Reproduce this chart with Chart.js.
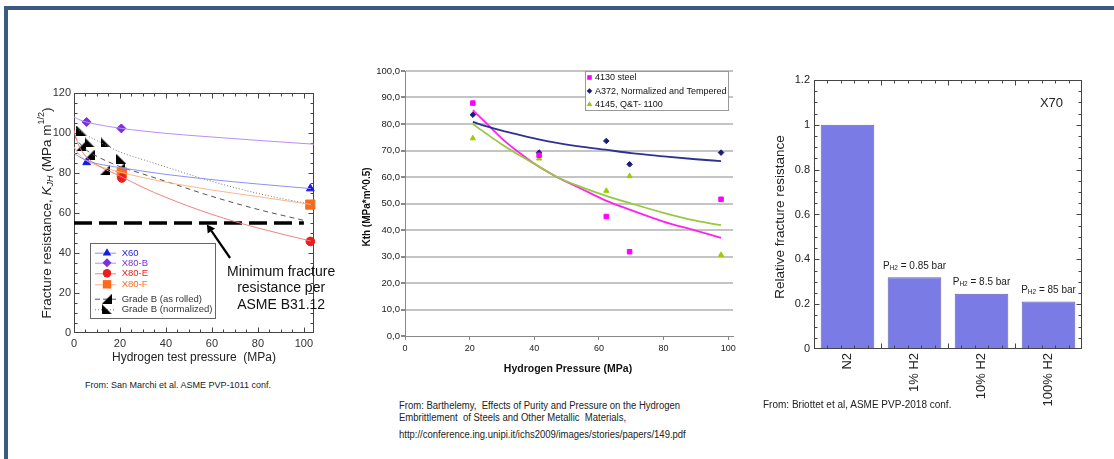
<!DOCTYPE html>
<html><head><meta charset="utf-8">
<script src="https://cdn.jsdelivr.net/npm/chart.js@4.4.1/dist/chart.umd.min.js"></script>
<style>
html,body{margin:0;padding:0;background:#fff;}
body{width:1114px;height:459px;position:relative;overflow:hidden;font-family:"Liberation Sans",Arial,Helvetica,sans-serif;}
.bar{position:absolute;background:#3c5a80;}
canvas{position:absolute;}
.src{position:absolute;color:#222;white-space:nowrap;line-height:1;}
.narrow{transform:scaleX(0.95);transform-origin:0 0;}
</style></head><body>
<div class="bar" style="left:4px;top:6px;width:1110px;height:4px"></div>
<div class="bar" style="left:4px;top:6px;width:4px;height:453px"></div>
<canvas id="c1" width="340" height="290" style="left:20px;top:80px"></canvas>
<canvas id="c2" width="380" height="320" style="left:360px;top:60px"></canvas>
<canvas id="c3" width="350" height="360" style="left:750px;top:60px"></canvas>
<div class="src" style="left:85px;top:381px;font-size:9px">From: San Marchi et al. ASME PVP-1011 conf.</div>
<div class="src narrow" style="left:399px;top:401px;font-size:10px">From: Barthelemy,&nbsp; Effects of Purity and Pressure on the Hydrogen</div>
<div class="src narrow" style="left:399px;top:412.5px;font-size:10px">Embrittlement&nbsp; of Steels and Other Metallic&nbsp; Materials,</div>
<div class="src narrow" style="left:399px;top:429.5px;font-size:10px">http://conference.ing.unipi.it/ichs2009/images/stories/papers/149.pdf</div>
<div class="src" style="left:763px;top:400px;font-size:10px">From: Briottet et al, ASME PVP-2018 conf.</div>
<script>
// ================= Chart 1 (San Marchi) =================
const c1XTicks = [0, 20, 40, 60, 80, 100];
const c1YTicks = [0, 20, 40, 60, 80, 100, 120];
const c1Names = ['X60', 'X80-B', 'X80-E', 'X80-F', 'Grade B (as rolled)', 'Grade B (normalized)'];
const x60X = [5.5, 102.8];            const x60Y = [85.3, 72.2];
const x80bX = [5.5, 20.6];            const x80bY = [105.5, 102.3];
const x80eX = [20.8, 102.8];          const x80eY = [77.5, 45.8];
const x80fX = [20.8, 102.8];          const x80fY = [80.3, 64.2];
const gbRolledX = [3.2, 6.8, 13.4, 20.2]; const gbRolledY = [93.6, 89.2, 81.3, 82.8];
const gbNormX = [3.2, 6.8, 13.8, 20.6];   const gbNormY = [101.2, 95.3, 95.3, 87];
// fitted curves
const x60FitX = [0, 2, 5, 10, 20, 30, 40, 60, 80, 103];
const x60FitY = [90, 88.3, 86.5, 84.7, 82.7, 80.9, 79.3, 76.7, 74.5, 72.2];
const x80bFitX = [0, 2, 5, 10, 20, 30, 40, 60, 80, 104.4];
const x80bFitY = [108, 106.8, 105.6, 104.3, 102.4, 101, 99.8, 98, 96.3, 94.4];
const x80eFitX = [0, 1, 2, 5, 10, 20, 30, 40, 60, 80, 103];
const x80eFitY = [101.5, 97, 94, 88.5, 84, 78.5, 72.8, 67.8, 59.3, 52.5, 46];
const x80fFitX = [0, 2, 5, 10, 20, 30, 40, 60, 80, 103];
const x80fFitY = [93, 89.5, 86.5, 83.8, 80.5, 77.7, 75.4, 71.5, 68.2, 64.3];
const gbRolledFitX = [0, 2, 5, 10, 20, 30, 40, 60, 80, 100];
const gbRolledFitY = [99, 95.5, 91.8, 88.3, 83.2, 79.5, 75.8, 68.3, 61.8, 56.3];
const gbNormFitX = [0, 2, 5, 10, 20, 30, 40, 60, 80, 104.4];
const gbNormFitY = [103.3, 101.5, 99.2, 96.2, 90.5, 86.7, 83, 75.8, 69.8, 64];
const asmeMinX = [0, 100];            const asmeMinY = [55, 55];

// ================= Chart 2 (Barthelemy) =================
const c2XTicks = [0, 20, 40, 60, 80, 100];
const c2YTicks = [0, 10, 20, 30, 40, 50, 60, 70, 80, 90, 100];
const c2Names = ['4130 steel', 'A372, Normalized and Tempered', '4145, Q&T- 1100'];
const s4130X = [21, 41.5, 62.3, 69.5, 97.8]; const s4130Y = [87.9, 68.2, 45.1, 31.8, 51.6];
const a372X = [21, 41.5, 62.3, 69.5, 97.8];  const a372Y = [83.5, 69.2, 73.6, 64.8, 69.2];
const q4145X = [21, 41.5, 62.3, 69.5, 97.8]; const q4145Y = [74.6, 67, 54.8, 60.3, 30.6];
const c2FitX = [21, 25, 30, 35, 41, 47, 55, 62, 70, 80, 90, 97.8];
const fit4130Y = [85.2, 80.5, 74.5, 69.5, 64.2, 60, 55.3, 51.2, 47.5, 43.2, 39.8, 37];
const fitA372Y = [80.8, 79.2, 77.5, 76, 74.3, 72.9, 71.4, 70.3, 69, 67.8, 66.7, 66];
const fit4145Y = [80, 76.5, 72.3, 68.5, 64.3, 60, 56, 53, 50, 46.5, 43.5, 41.8];

// ================= Chart 3 (Briottet) =================
const c3Cats = ['N2', '1% H2', '10% H2', '100% H2'];
const c3Vals = [1.0, 0.32, 0.247, 0.212];
const c3Notes = ['', '= 0.85 bar', '= 8.5 bar', '= 85 bar'];
const c3YTicks = [0, 0.2, 0.4, 0.6, 0.8, 1, 1.2];

// ---------------------------------------------------------
const FF = '"Liberation Sans", Arial, Helvetica, sans-serif';
Chart.defaults.font.family = FF;
Chart.defaults.animation = false;
Chart.defaults.plugins.legend.display = false;
Chart.defaults.plugins.tooltip.enabled = false;

const xy = (xs, ys) => xs.map((x, i) => ({x: x, y: ys[i]}));
function fitDs(xs, ys, color, width, dash) {
  return {data: xy(xs, ys), showLine: true, borderColor: color, borderWidth: width, borderDash: dash || [],
    pointRadius: 0, tension: 0.4, cubicInterpolationMode: 'monotone', fill: false};
}
function ptsDs(xs, ys, style, r, fill, border) {
  return {data: xy(xs, ys), showLine: false, pointStyle: style, pointRadius: r,
    backgroundColor: fill, borderColor: border || fill, borderWidth: 1, clip: false};
}
function triCanvas(kind) {
  const c = document.createElement('canvas'); c.width = 10; c.height = 10;
  const g = c.getContext('2d'); g.fillStyle = '#000'; g.beginPath();
  if (kind === 'rolled') { g.moveTo(10, 0); g.lineTo(10, 10); g.lineTo(0, 10); }
  else { g.moveTo(0, 0); g.lineTo(0, 10); g.lineTo(10, 10); }
  g.closePath(); g.fill(); return c;
}
const triRolled = triCanvas('rolled'), triNorm = triCanvas('norm');

function rich(ctx, parts, cx, cy, rot) {
  ctx.save(); ctx.translate(cx, cy); if (rot) ctx.rotate(rot);
  ctx.textBaseline = 'middle'; ctx.textAlign = 'left';
  let w = 0; parts.forEach(p => { ctx.font = p.f; w += ctx.measureText(p.t).width; });
  let x = -w / 2;
  parts.forEach(p => { ctx.font = p.f; ctx.fillStyle = p.c || '#222'; ctx.fillText(p.t, x, p.dy || 0); x += ctx.measureText(p.t).width; });
  ctx.restore();
}
function marker(ctx, style, x, y, r, color) {
  ctx.save(); ctx.fillStyle = color; ctx.beginPath();
  if (style === 'triangle') { ctx.moveTo(x, y - r); ctx.lineTo(x + r * 0.95, y + r * 0.6); ctx.lineTo(x - r * 0.95, y + r * 0.6); ctx.closePath(); ctx.fill(); }
  else if (style === 'rectRot') { ctx.moveTo(x, y - r); ctx.lineTo(x + r, y); ctx.lineTo(x, y + r); ctx.lineTo(x - r, y); ctx.closePath(); ctx.fill(); }
  else if (style === 'circle') { ctx.arc(x, y, r, 0, Math.PI * 2); ctx.fill(); }
  else if (style === 'rect') { ctx.fillRect(x - r, y - r, 2 * r, 2 * r); }
  else if (style && style.getContext) { ctx.drawImage(style, x - style.width / 2, y - style.height / 2); }
  ctx.restore();
}
const setTicks = arr => s => { s.ticks = arr.map(v => ({value: v})); };

// ================= Chart 1 =================
const c1Colors = {x60: '#1a1ae6', x60L: '#8f8ff2', x80b: '#7a2fe0', x80bL: '#b98ef5', x80e: '#ee1c1c', x80eL: '#f08080', x80f: '#ff6a1a', x80fL: '#f8b88c'};
new Chart(document.getElementById('c1'), {
  type: 'scatter',
  data: {datasets: [
    fitDs(x60FitX, x60FitY, c1Colors.x60L, 1),
    fitDs(x80bFitX, x80bFitY, c1Colors.x80bL, 1),
    fitDs(x80eFitX, x80eFitY, c1Colors.x80eL, 1),
    fitDs(x80fFitX, x80fFitY, c1Colors.x80fL, 1),
    fitDs(gbRolledFitX, gbRolledFitY, '#555', 1, [5, 4]),
    fitDs(gbNormFitX, gbNormFitY, '#777', 1, [1, 2]),
    {data: xy(asmeMinX, asmeMinY), showLine: true, borderColor: '#000', borderWidth: 3.5, borderDash: [18, 7], pointRadius: 0, clip: false},
    ptsDs(x60X, x60Y, 'triangle', 4.5, c1Colors.x60),
    ptsDs(x80bX, x80bY, 'rectRot', 4.5, c1Colors.x80b),
    ptsDs(x80eX, x80eY, 'circle', 4.3, c1Colors.x80e),
    ptsDs(x80fX, x80fY, 'rect', 6.5, c1Colors.x80f),
    ptsDs(gbRolledX, gbRolledY, triRolled, 5, '#000'),
    ptsDs(gbNormX, gbNormY, triNorm, 5, '#000')
  ]},
  options: {
    responsive: false,
    layout: {padding: {left: 0, top: 13, right: 46, bottom: 0}},
    scales: {
      x: {type: 'linear', min: 0, max: 104.4, afterBuildTicks: setTicks(c1XTicks), afterFit: s => { s.height = 37; },
          grid: {display: false, drawTicks: false}, border: {display: false},
          ticks: {padding: 4, color: '#333', font: {size: 11}, maxRotation: 0}},
      y: {type: 'linear', min: 0, max: 120, afterBuildTicks: setTicks(c1YTicks), afterFit: s => { s.width = 54; },
          grid: {display: false, drawTicks: false}, border: {display: false},
          ticks: {padding: 3, color: '#333', font: {size: 11}}}
    }
  },
  plugins: [{
    id: 'c1deco',
    beforeDatasetsDraw(chart) {
      const {ctx, chartArea: ca, scales: {x, y}} = chart;
      ctx.save(); ctx.strokeStyle = '#444'; ctx.lineWidth = 1;
      const L = Math.round(ca.left) + 0.5, R = Math.round(ca.right) - 0.5, T = Math.round(ca.top) + 0.5, B = Math.round(ca.bottom) - 0.5;
      ctx.strokeRect(L, T, R - L, B - T);
      ctx.beginPath();
      for (let v = 5; v <= 104; v += 5) { const px = Math.round(x.getPixelForValue(v)) + 0.5, len = v % 20 === 0 ? 5 : 3;
        ctx.moveTo(px, B); ctx.lineTo(px, B - len); ctx.moveTo(px, T); ctx.lineTo(px, T + len); }
      for (let v = 5; v < 120; v += 5) { const py = Math.round(y.getPixelForValue(v)) + 0.5, len = v % 20 === 0 ? 5 : 3;
        ctx.moveTo(L, py); ctx.lineTo(L + len, py); ctx.moveTo(R, py); ctx.lineTo(R - len, py); }
      ctx.stroke(); ctx.restore();
    },
    afterDraw(chart) {
      const {ctx, chartArea: ca, scales: {x, y}} = chart;
      // axis titles
      rich(ctx, [{t: 'Hydrogen test pressure  (MPa)', f: '12px ' + FF}], (ca.left + ca.right) / 2, 277.5, 0);
      rich(ctx, [
        {t: 'Fracture resistance, ', f: '13.5px ' + FF},
        {t: 'K', f: 'italic 13.5px ' + FF},
        {t: 'JH', f: 'italic 9px ' + FF, dy: 3},
        {t: ' (MPa m', f: '13.5px ' + FF},
        {t: '1/2', f: '9px ' + FF, dy: -5},
        {t: ')', f: '13.5px ' + FF}
      ], 27, (ca.top + ca.bottom) / 2, -Math.PI / 2);
      // arrow + annotation
      const tx = x.getPixelForValue(57.8), ty = y.getPixelForValue(54.3);
      const sx = x.getPixelForValue(67.9), sy = y.getPixelForValue(37.5);
      ctx.save(); ctx.strokeStyle = '#000'; ctx.fillStyle = '#000'; ctx.lineWidth = 2.2;
      const ang = Math.atan2(ty - sy, tx - sx);
      const hx = tx - 8 * Math.cos(ang), hy = ty - 8 * Math.sin(ang);
      ctx.beginPath(); ctx.moveTo(sx, sy); ctx.lineTo(hx, hy); ctx.stroke();
      ctx.beginPath(); ctx.moveTo(tx, ty);
      ctx.lineTo(hx + 4.5 * Math.sin(ang), hy - 4.5 * Math.cos(ang));
      ctx.lineTo(hx - 4.5 * Math.sin(ang), hy + 4.5 * Math.cos(ang));
      ctx.closePath(); ctx.fill(); ctx.restore();
      const ax = x.getPixelForValue(90.1);
      rich(ctx, [{t: 'Minimum fracture', f: '14px ' + FF, c: '#111'}], ax, y.getPixelForValue(30.2), 0);
      rich(ctx, [{t: 'resistance per', f: '14px ' + FF, c: '#111'}], ax, y.getPixelForValue(22.4), 0);
      rich(ctx, [{t: 'ASME B31.12', f: '14px ' + FF, c: '#111'}], ax, y.getPixelForValue(14), 0);
      // legend
      ctx.save();
      ctx.fillStyle = '#fff'; ctx.fillRect(70, 163, 125, 75);
      ctx.strokeStyle = '#666'; ctx.lineWidth = 1; ctx.strokeRect(70.5, 163.5, 125, 75);
      const rows = [172.7, 182.7, 193.3, 204.3, 218.7, 229.3];
      const lc = [c1Colors.x60L, c1Colors.x80bL, c1Colors.x80eL, c1Colors.x80fL, '#555', '#777'];
      const dashes = [[], [], [], [], [5, 3], [1, 2]];
      const mk = [['triangle', 4.5, c1Colors.x60], ['rectRot', 4.5, c1Colors.x80b], ['circle', 4.2, c1Colors.x80e], ['rect', 4.2, c1Colors.x80f], [triRolled, 0, '#000'], [triNorm, 0, '#000']];
      const tc = [c1Colors.x60, c1Colors.x80b, c1Colors.x80e, c1Colors.x80f, '#333', '#333'];
      rows.forEach((ry, i) => {
        ctx.save(); ctx.strokeStyle = lc[i]; ctx.lineWidth = 1; ctx.setLineDash(dashes[i]);
        ctx.beginPath(); ctx.moveTo(75, ry + 0.5); ctx.lineTo(96, ry + 0.5); ctx.stroke(); ctx.restore();
        marker(ctx, mk[i][0], 87, ry, mk[i][1], mk[i][2]);
        ctx.font = '9.5px ' + FF; ctx.fillStyle = tc[i]; ctx.textBaseline = 'middle'; ctx.textAlign = 'left';
        ctx.fillText(c1Names[i], 101.7, ry + 0.5);
      });
      ctx.restore();
    }
  }]
});

// ================= Chart 2 =================
const c2Col = {m: '#ff00ff', mL: '#ff22ee', n: '#1b1b78', nL: '#2e3192', g: '#99cc00', gL: '#97c93d'};
new Chart(document.getElementById('c2'), {
  type: 'scatter',
  data: {datasets: [
    ptsDs(s4130X, s4130Y, 'rect', 3.2, c2Col.m),
    ptsDs(a372X, a372Y, 'rectRot', 2.8, c2Col.n),
    ptsDs(q4145X, q4145Y, 'triangle', 3, c2Col.g),
    fitDs(c2FitX, fitA372Y, c2Col.nL, 1.8),
    fitDs(c2FitX, fit4145Y, c2Col.gL, 1.8),
    fitDs(c2FitX, fit4130Y, c2Col.mL, 1.8)
  ]},
  options: {
    responsive: false,
    layout: {padding: {left: 0, top: 11, right: 7, bottom: 0}},
    scales: {
      x: {type: 'linear', min: 0, max: 101.5, afterBuildTicks: setTicks(c2XTicks), afterFit: s => { s.height = 44; },
          grid: {drawOnChartArea: false, drawTicks: true, tickLength: 4, tickColor: '#888'},
          border: {display: true, color: '#888', width: 1},
          ticks: {padding: 3, color: '#222', font: {size: 9}, maxRotation: 0}},
      y: {type: 'linear', min: 0, max: 100, afterBuildTicks: setTicks(c2YTicks), afterFit: s => { s.width = 45; },
          grid: {drawOnChartArea: true, drawTicks: true, tickLength: 4, tickColor: '#888',
                 color: c => c.tick && c.tick.value === 0 ? 'rgba(0,0,0,0)' : '#c4c4c4', lineWidth: 2},
          border: {display: true, color: '#888', width: 1},
          ticks: {padding: 1, color: '#222', font: {size: 9.5}, callback: v => v.toFixed(1).replace('.', ',')}}
    }
  },
  plugins: [{
    id: 'c2deco',
    afterDraw(chart) {
      const {ctx, chartArea: ca} = chart;
      rich(ctx, [{t: 'Kth (MPa*m^0.5)', f: 'bold 10px ' + FF, c: '#111'}], 7, 147, -Math.PI / 2);
      rich(ctx, [{t: 'Hydrogen Pressure (MPa)', f: 'bold 10.5px ' + FF, c: '#111'}], 208, 309, 0);
      ctx.save();
      ctx.fillStyle = '#fff'; ctx.fillRect(225, 11, 143, 39);
      ctx.strokeStyle = '#999'; ctx.lineWidth = 1; ctx.strokeRect(225.5, 11.5, 143, 39);
      const rows = [17.5, 31, 44.3];
      const mk = [['rect', 2.3, c2Col.m], ['rectRot', 2.8, c2Col.n], ['triangle', 3, c2Col.g]];
      rows.forEach((ry, i) => {
        marker(ctx, mk[i][0], 229.5, ry, mk[i][1], mk[i][2]);
        ctx.font = '9px ' + FF; ctx.fillStyle = '#111'; ctx.textBaseline = 'middle'; ctx.textAlign = 'left';
        ctx.fillText(c2Names[i], 235, ry + 0.5);
      });
      ctx.restore();
    }
  }]
});

// ================= Chart 3 =================
new Chart(document.getElementById('c3'), {
  type: 'bar',
  data: {labels: c3Cats, datasets: [{data: c3Vals, backgroundColor: '#7b7be6', borderColor: '#6262b8', borderWidth: 1,
    barPercentage: 0.8, categoryPercentage: 1}]},
  options: {
    responsive: false,
    layout: {padding: {left: 0, top: 20, right: 18, bottom: 0}},
    scales: {
      x: {afterFit: s => { s.height = 71; }, grid: {display: false, drawTicks: false}, border: {display: false},
          ticks: {padding: 4, color: '#222', font: {size: 13}, minRotation: 90, maxRotation: 90, autoSkip: false}},
      y: {min: 0, max: 1.2, afterBuildTicks: setTicks(c3YTicks), afterFit: s => { s.width = 64; },
          grid: {display: false, drawTicks: false}, border: {display: false},
          ticks: {padding: 4, color: '#222', font: {size: 11}, callback: v => String(Number(v.toFixed(2)))}}
    }
  },
  plugins: [{
    id: 'c3deco',
    afterDatasetsDraw(chart) {
      const {ctx, chartArea: ca, scales: {y}} = chart;
      ctx.save(); ctx.strokeStyle = '#444'; ctx.lineWidth = 1;
      const L = Math.round(ca.left) + 0.5, R = Math.round(ca.right) - 0.5, T = Math.round(ca.top) + 0.5, B = Math.round(ca.bottom) - 0.5;
      ctx.strokeRect(L, T, R - L, B - T);
      ctx.beginPath();
      for (let i = 1; i < 24; i++) { const v = i * 0.05, py = Math.round(y.getPixelForValue(v)) + 0.5, len = i % 4 === 0 ? 5 : 3;
        ctx.moveTo(L, py); ctx.lineTo(L + len, py); ctx.moveTo(R, py); ctx.lineTo(R - len, py); }
      const step = (ca.right - ca.left) / 20;
      for (let i = 1; i < 20; i++) { const px = Math.round(ca.left + i * step) + 0.5, len = i % 5 === 0 ? 5 : 3;
        ctx.moveTo(px, B); ctx.lineTo(px, B - len); ctx.moveTo(px, T); ctx.lineTo(px, T + len); }
      ctx.stroke(); ctx.restore();
      rich(ctx, [{t: 'Relative fracture resistance', f: '13.5px ' + FF}], 30, 157, -Math.PI / 2);
      rich(ctx, [{t: 'X70', f: '13px ' + FF}], 301.5, 43.5, 0);
      const meta = chart.getDatasetMeta(0);
      meta.data.forEach((bar, i) => {
        if (!c3Notes[i]) return;
        rich(ctx, [
          {t: 'P', f: '10px ' + FF},
          {t: 'H2', f: '6.5px ' + FF, dy: 2.5},
          {t: ' ' + c3Notes[i], f: '10px ' + FF}
        ], bar.x, bar.y - 11.5, 0);
      });
    }
  }]
});
</script>
</body></html>
